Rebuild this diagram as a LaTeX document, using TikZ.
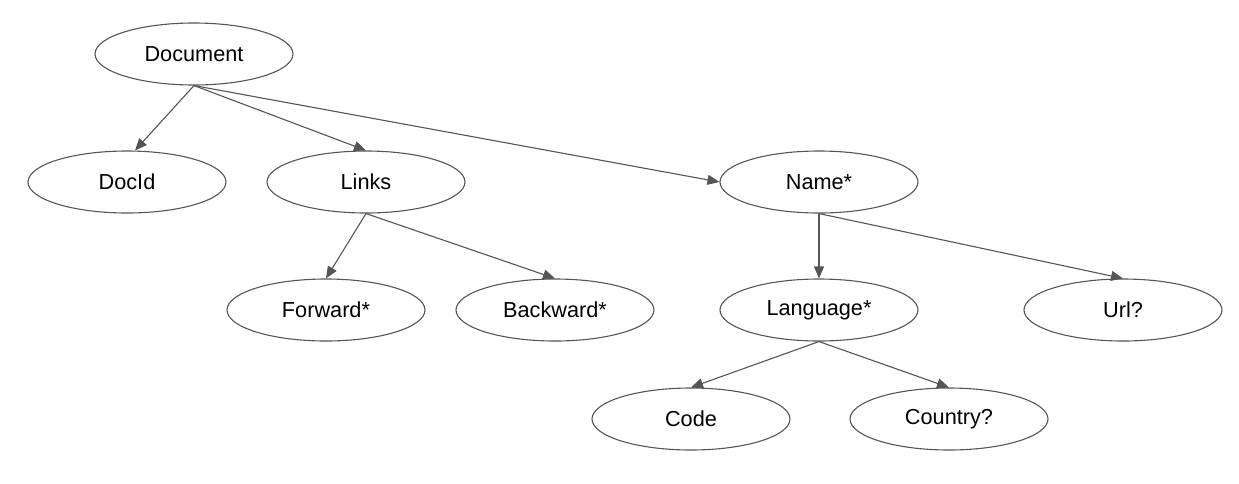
\documentclass[tikz,border=0pt]{standalone}
\usepackage{fontspec}
\setmainfont{Liberation Sans}
\usetikzlibrary{shapes.geometric,arrows.meta}
\definecolor{edgegray}{HTML}{555555}
\begin{document}
\begin{tikzpicture}[x=1pt,y=-1pt,
  ent/.style={ellipse,draw=edgegray,line width=1.1pt,minimum width=198pt,minimum height=62pt,inner sep=0pt,font=\fontsize{21.7}{25}\selectfont},
  link/.style={draw=edgegray,line width=1.1pt,-{Triangle[length=12pt,width=10pt]}}]
\useasboundingbox (0,0) rectangle (1239,483);
\node[ent] (doc) at (194,54) {Document};
\node[ent] (docid) at (127,182) {DocId};
\node[ent] (links) at (366,182) {Links};
\node[ent] (name) at (819,182) {Name*};
\node[ent] (fwd) at (326,310) {Forward*};
\node[ent] (bwd) at (555,310) {Backward*};
\node[ent] (lang) at (819,310) {Language*};
\node[ent] (url) at (1123,310) {Url?};
\node[ent] (code) at (691,419) {Code};
\node[ent] (country) at (949,419) {Country?};
\draw[link] (doc.south) -- ([xshift=8pt]docid.north);
\draw[link] (doc.south) -- (links.north);
\draw[link] (doc.south) -- (name.west);
\draw[link] (links.south) -- (fwd.north);
\draw[link] (links.south) -- (bwd.north);
\draw[link] (name.south) -- (lang.north);
\draw[link] (name.south) -- (url.north);
\draw[link] (lang.south) -- (code.north);
\draw[link] (lang.south) -- (country.north);
\end{tikzpicture}
\end{document}
